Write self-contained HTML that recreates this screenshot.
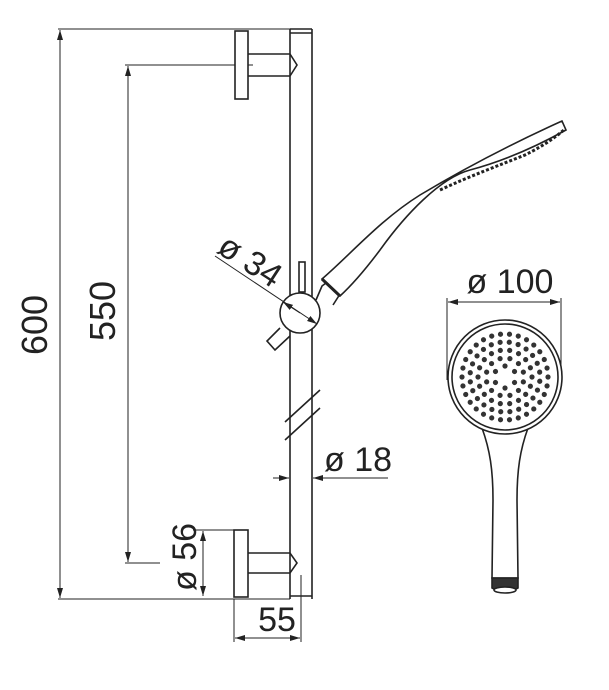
<!DOCTYPE html>
<html><head><meta charset="utf-8"><style>
html,body{margin:0;padding:0;background:#fff;width:609px;height:690px;overflow:hidden;position:relative}
.t{position:absolute;font-family:"Liberation Sans",sans-serif;color:#222;white-space:nowrap;line-height:1;transform-origin:center}
</style></head><body>
<svg width="609" height="690" viewBox="0 0 609 690" xmlns="http://www.w3.org/2000/svg" style="position:absolute;left:0;top:0">
<defs>
<marker id="a" viewBox="0 0 10 6" refX="10" refY="3" markerWidth="10" markerHeight="6" orient="auto-start-reverse" markerUnits="userSpaceOnUse"><path d="M0,0 L10,3 L0,6z" fill="#222"/></marker>
</defs>
<g stroke="#222" fill="none" stroke-width="1">
<line x1="58" y1="29" x2="290" y2="29"/>
<line x1="58" y1="599" x2="290" y2="599"/>
<line x1="60" y1="30" x2="60" y2="598" marker-start="url(#a)" marker-end="url(#a)"/>
<line x1="125" y1="65" x2="253" y2="65"/>
<line x1="125" y1="563" x2="160" y2="563"/>
<line x1="128" y1="66" x2="128" y2="562" marker-start="url(#a)" marker-end="url(#a)"/>
</g>
<g stroke="#222" fill="none" stroke-width="1.6">
<line x1="290" y1="29" x2="290" y2="599"/>
<line x1="312" y1="29" x2="312" y2="599"/>
<line x1="290" y1="29" x2="312" y2="29"/>
<line x1="290" y1="33" x2="312" y2="33"/>
<line x1="290" y1="596" x2="312" y2="596"/>
<rect x="235" y="31" width="13" height="68" fill="#fff"/>
<path d="M248,54 L290,54 L297,65 L290,76 L248,76"/>
<rect x="234" y="530" width="14" height="67" fill="#fff"/>
<path d="M248,553 L290,553 L297,563 L290,573 L248,573"/>
<path d="M285,422 L320,390 M285,440 L320,408"/>
<rect x="299" y="262" width="6" height="30"/>
<path d="M280,328 L267,341 L275,350 L290,336"/>
<path d="M316,300 L322,286 L330,280 L340,294 L333,305"/>
<circle cx="300" cy="313" r="20" fill="#fff"/>
<path d="M322,279 C350,255 380,220 420,195 C470,165 520,140 562,121 L566,130 C530,150 500,162 470,170 C440,178 405,215 380,250 C365,270 352,285 340,296 Z" fill="#fff"/>
<path d="M322,279 L340,296" stroke-width="3"/>
<path d="M440,190 C470,176 500,165 525,155 C545,145 557,136 565,129" stroke-width="3" stroke-dasharray="3 2"/>
</g>
<g stroke="#222" fill="none" stroke-width="1">
<line x1="215" y1="256" x2="317" y2="324" marker-end="url(#a)"/>
<line x1="300" y1="313" x2="283" y2="302" marker-end="url(#a)"/>
<line x1="273" y1="478" x2="289" y2="478" marker-end="url(#a)"/>
<line x1="388" y1="478" x2="313" y2="478" marker-end="url(#a)"/>
<line x1="193" y1="530" x2="234" y2="530"/>
<line x1="203" y1="531" x2="203" y2="596" marker-start="url(#a)" marker-end="url(#a)"/>
<line x1="234" y1="599" x2="234" y2="642"/>
<line x1="301" y1="575" x2="301" y2="642"/>
<line x1="235" y1="638" x2="300" y2="638" marker-start="url(#a)" marker-end="url(#a)"/>
<line x1="447" y1="298" x2="447" y2="380"/>
<line x1="561" y1="298" x2="561" y2="380"/>
<line x1="448" y1="302" x2="560" y2="302" marker-start="url(#a)" marker-end="url(#a)"/>
</g>
<g stroke="#222" fill="none" stroke-width="1.6">
<path d="M482,428 C490,450 493,470 493,500 L492,578 L518,578 L517,500 C517,470 520,450 528,428" fill="#fff"/>
<circle cx="505" cy="377" r="57" fill="#fff"/>
<circle cx="505" cy="377" r="53"/>
<path d="M492,578 L492,588 C500,593 510,593 518,588 L518,578 Z" fill="#333"/>
<ellipse cx="505" cy="590" rx="11" ry="3" fill="#fff"/>
</g>
<g fill="#333">
<g>
<circle cx="548" cy="377" r="2.6"/><circle cx="548" cy="377" r="2.6" transform="rotate(12 505 377)"/><circle cx="548" cy="377" r="2.6" transform="rotate(24 505 377)"/><circle cx="548" cy="377" r="2.6" transform="rotate(36 505 377)"/><circle cx="548" cy="377" r="2.6" transform="rotate(48 505 377)"/><circle cx="548" cy="377" r="2.6" transform="rotate(60 505 377)"/><circle cx="548" cy="377" r="2.6" transform="rotate(72 505 377)"/><circle cx="548" cy="377" r="2.6" transform="rotate(84 505 377)"/><circle cx="548" cy="377" r="2.6" transform="rotate(96 505 377)"/><circle cx="548" cy="377" r="2.6" transform="rotate(108 505 377)"/><circle cx="548" cy="377" r="2.6" transform="rotate(120 505 377)"/><circle cx="548" cy="377" r="2.6" transform="rotate(132 505 377)"/><circle cx="548" cy="377" r="2.6" transform="rotate(144 505 377)"/><circle cx="548" cy="377" r="2.6" transform="rotate(156 505 377)"/><circle cx="548" cy="377" r="2.6" transform="rotate(168 505 377)"/><circle cx="548" cy="377" r="2.6" transform="rotate(180 505 377)"/><circle cx="548" cy="377" r="2.6" transform="rotate(192 505 377)"/><circle cx="548" cy="377" r="2.6" transform="rotate(204 505 377)"/><circle cx="548" cy="377" r="2.6" transform="rotate(216 505 377)"/><circle cx="548" cy="377" r="2.6" transform="rotate(228 505 377)"/><circle cx="548" cy="377" r="2.6" transform="rotate(240 505 377)"/><circle cx="548" cy="377" r="2.6" transform="rotate(252 505 377)"/><circle cx="548" cy="377" r="2.6" transform="rotate(264 505 377)"/><circle cx="548" cy="377" r="2.6" transform="rotate(276 505 377)"/><circle cx="548" cy="377" r="2.6" transform="rotate(288 505 377)"/><circle cx="548" cy="377" r="2.6" transform="rotate(300 505 377)"/><circle cx="548" cy="377" r="2.6" transform="rotate(312 505 377)"/><circle cx="548" cy="377" r="2.6" transform="rotate(324 505 377)"/><circle cx="548" cy="377" r="2.6" transform="rotate(336 505 377)"/><circle cx="548" cy="377" r="2.6" transform="rotate(348 505 377)"/>
</g>
<g transform="rotate(7 505 377)">
<circle cx="540" cy="377" r="2.6"/><circle cx="540" cy="377" r="2.6" transform="rotate(15 505 377)"/><circle cx="540" cy="377" r="2.6" transform="rotate(30 505 377)"/><circle cx="540" cy="377" r="2.6" transform="rotate(45 505 377)"/><circle cx="540" cy="377" r="2.6" transform="rotate(60 505 377)"/><circle cx="540" cy="377" r="2.6" transform="rotate(75 505 377)"/><circle cx="540" cy="377" r="2.6" transform="rotate(90 505 377)"/><circle cx="540" cy="377" r="2.6" transform="rotate(105 505 377)"/><circle cx="540" cy="377" r="2.6" transform="rotate(120 505 377)"/><circle cx="540" cy="377" r="2.6" transform="rotate(135 505 377)"/><circle cx="540" cy="377" r="2.6" transform="rotate(150 505 377)"/><circle cx="540" cy="377" r="2.6" transform="rotate(165 505 377)"/><circle cx="540" cy="377" r="2.6" transform="rotate(180 505 377)"/><circle cx="540" cy="377" r="2.6" transform="rotate(195 505 377)"/><circle cx="540" cy="377" r="2.6" transform="rotate(210 505 377)"/><circle cx="540" cy="377" r="2.6" transform="rotate(225 505 377)"/><circle cx="540" cy="377" r="2.6" transform="rotate(240 505 377)"/><circle cx="540" cy="377" r="2.6" transform="rotate(255 505 377)"/><circle cx="540" cy="377" r="2.6" transform="rotate(270 505 377)"/><circle cx="540" cy="377" r="2.6" transform="rotate(285 505 377)"/><circle cx="540" cy="377" r="2.6" transform="rotate(300 505 377)"/><circle cx="540" cy="377" r="2.6" transform="rotate(315 505 377)"/><circle cx="540" cy="377" r="2.6" transform="rotate(330 505 377)"/><circle cx="540" cy="377" r="2.6" transform="rotate(345 505 377)"/>
</g>
<g>
<circle cx="532" cy="377" r="2.6"/><circle cx="532" cy="377" r="2.6" transform="rotate(20 505 377)"/><circle cx="532" cy="377" r="2.6" transform="rotate(40 505 377)"/><circle cx="532" cy="377" r="2.6" transform="rotate(60 505 377)"/><circle cx="532" cy="377" r="2.6" transform="rotate(80 505 377)"/><circle cx="532" cy="377" r="2.6" transform="rotate(100 505 377)"/><circle cx="532" cy="377" r="2.6" transform="rotate(120 505 377)"/><circle cx="532" cy="377" r="2.6" transform="rotate(140 505 377)"/><circle cx="532" cy="377" r="2.6" transform="rotate(160 505 377)"/><circle cx="532" cy="377" r="2.6" transform="rotate(180 505 377)"/><circle cx="532" cy="377" r="2.6" transform="rotate(200 505 377)"/><circle cx="532" cy="377" r="2.6" transform="rotate(220 505 377)"/><circle cx="532" cy="377" r="2.6" transform="rotate(240 505 377)"/><circle cx="532" cy="377" r="2.6" transform="rotate(260 505 377)"/><circle cx="532" cy="377" r="2.6" transform="rotate(280 505 377)"/><circle cx="532" cy="377" r="2.6" transform="rotate(300 505 377)"/><circle cx="532" cy="377" r="2.6" transform="rotate(320 505 377)"/><circle cx="532" cy="377" r="2.6" transform="rotate(340 505 377)"/>
</g>
<g transform="rotate(15 505 377)">
<circle cx="524" cy="377" r="2.6"/><circle cx="524" cy="377" r="2.6" transform="rotate(30 505 377)"/><circle cx="524" cy="377" r="2.6" transform="rotate(60 505 377)"/><circle cx="524" cy="377" r="2.6" transform="rotate(90 505 377)"/><circle cx="524" cy="377" r="2.6" transform="rotate(120 505 377)"/><circle cx="524" cy="377" r="2.6" transform="rotate(150 505 377)"/><circle cx="524" cy="377" r="2.6" transform="rotate(180 505 377)"/><circle cx="524" cy="377" r="2.6" transform="rotate(210 505 377)"/><circle cx="524" cy="377" r="2.6" transform="rotate(240 505 377)"/><circle cx="524" cy="377" r="2.6" transform="rotate(270 505 377)"/><circle cx="524" cy="377" r="2.6" transform="rotate(300 505 377)"/><circle cx="524" cy="377" r="2.6" transform="rotate(330 505 377)"/>
</g>
<g transform="rotate(30 505 377)">
<circle cx="516" cy="377" r="2.6"/><circle cx="516" cy="377" r="2.6" transform="rotate(60 505 377)"/><circle cx="516" cy="377" r="2.6" transform="rotate(120 505 377)"/><circle cx="516" cy="377" r="2.6" transform="rotate(180 505 377)"/><circle cx="516" cy="377" r="2.6" transform="rotate(240 505 377)"/><circle cx="516" cy="377" r="2.6" transform="rotate(300 505 377)"/>
</g>
</g>
</svg>
<div class="t" style="font-size:36px;left:35px;top:325px;transform:translate(-50%,-50%) rotate(-90deg)">600</div>
<div class="t" style="font-size:36px;left:103px;top:311px;transform:translate(-50%,-50%) rotate(-90deg)">550</div>
<div class="t" style="font-size:34px;left:250px;top:261px;transform:translate(-50%,-50%) rotate(33deg)">ø 34</div>
<div class="t" style="font-size:34px;left:358px;top:460px;transform:translate(-50%,-50%)">ø 18</div>
<div class="t" style="font-size:34px;left:185px;top:557px;transform:translate(-50%,-50%) rotate(-90deg)">ø 56</div>
<div class="t" style="font-size:34px;left:277px;top:620px;transform:translate(-50%,-50%)">55</div>
<div class="t" style="font-size:34px;left:510px;top:282px;transform:translate(-50%,-50%)">ø 100</div>
</body></html>
